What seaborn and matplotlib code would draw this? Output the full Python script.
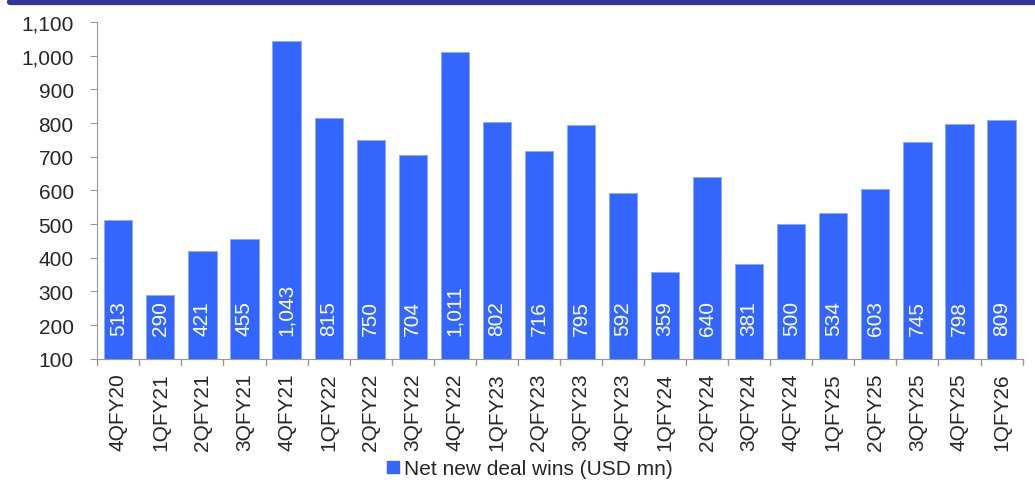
import matplotlib
matplotlib.use("Agg")
import matplotlib.pyplot as plt
import seaborn as sns
import pandas as pd
from matplotlib.ticker import FuncFormatter
from matplotlib.lines import Line2D

sns.set_style("white")
plt.rcParams["font.family"] = ["Liberation Sans", "DejaVu Sans"]

# data
quarters = ["4QFY20", "1QFY21", "2QFY21", "3QFY21", "4QFY21", "1QFY22", "2QFY22",
            "3QFY22", "4QFY22", "1QFY23", "2QFY23", "3QFY23", "4QFY23", "1QFY24",
            "2QFY24", "3QFY24", "4QFY24", "1QFY25", "2QFY25", "3QFY25", "4QFY25",
            "1QFY26"]
deal_wins = [513, 290, 421, 455, 1043, 815, 750, 704, 1011, 802, 716, 795, 592,
             359, 640, 381, 500, 534, 603, 745, 798, 809]
series_name = "Net new deal wins (USD mn)"

df = pd.DataFrame({"quarter": quarters, "value": deal_wins})
bar_color = "#3366FF"
fs = 15

fig = plt.figure(figsize=(10.35, 4.81), dpi=100)
ax = fig.add_axes([0.094, 0.252, 0.894, 0.700])

sns.barplot(data=df, x="quarter", y="value", color=bar_color, width=0.67,
            saturation=1, ax=ax, edgecolor="#8FA8FF", linewidth=0.6)

ax.set_ylim(100, 1100)
ax.set_yticks(range(100, 1101, 100))
ax.yaxis.set_major_formatter(FuncFormatter(lambda v, p: f"{int(v):,}"))
ax.set_xlim(-0.5, len(quarters) - 0.5)
ax.set_xlabel("")
ax.set_ylabel("")

# value labels inside bars, starting near the base
for i, v in enumerate(deal_wins):
    ax.text(i, 170, f"{v:,}", rotation=90, ha="center", va="bottom",
            color="white", fontsize=fs)

# x ticks between categories
ax.set_xticks(range(len(quarters)))
ax.set_xticklabels(quarters, rotation=90, fontsize=fs)
ax.tick_params(axis="x", length=0, pad=10)
ax.tick_params(axis="y", labelsize=fs, length=5, pad=12, color="#999999",
               direction="out", left=True)
for b in [x - 0.5 for x in range(len(quarters) + 1)]:
    ax.plot([b, b], [0, -0.018], transform=ax.get_xaxis_transform(),
            color="#999999", lw=1, clip_on=False)

for s in ["top", "right"]:
    ax.spines[s].set_visible(False)
ax.spines["left"].set_color("#999999")
ax.spines["bottom"].set_color("#999999")

handle = Line2D([], [], marker="s", color="w", markerfacecolor=bar_color,
                markeredgecolor=bar_color, markersize=8, linestyle="")
fig.legend([handle], [series_name], loc="lower center", bbox_to_anchor=(0.51, -0.022),
           frameon=False, fontsize=fs, handletextpad=0.0, borderaxespad=0.2,
           handlelength=1.0)

# top banner strip
fig.add_artist(Line2D([0.01, 1.0], [0.994, 0.994], transform=fig.transFigure,
                      color="#333399", lw=4.5))

fig.savefig("out.png", dpi=100)
